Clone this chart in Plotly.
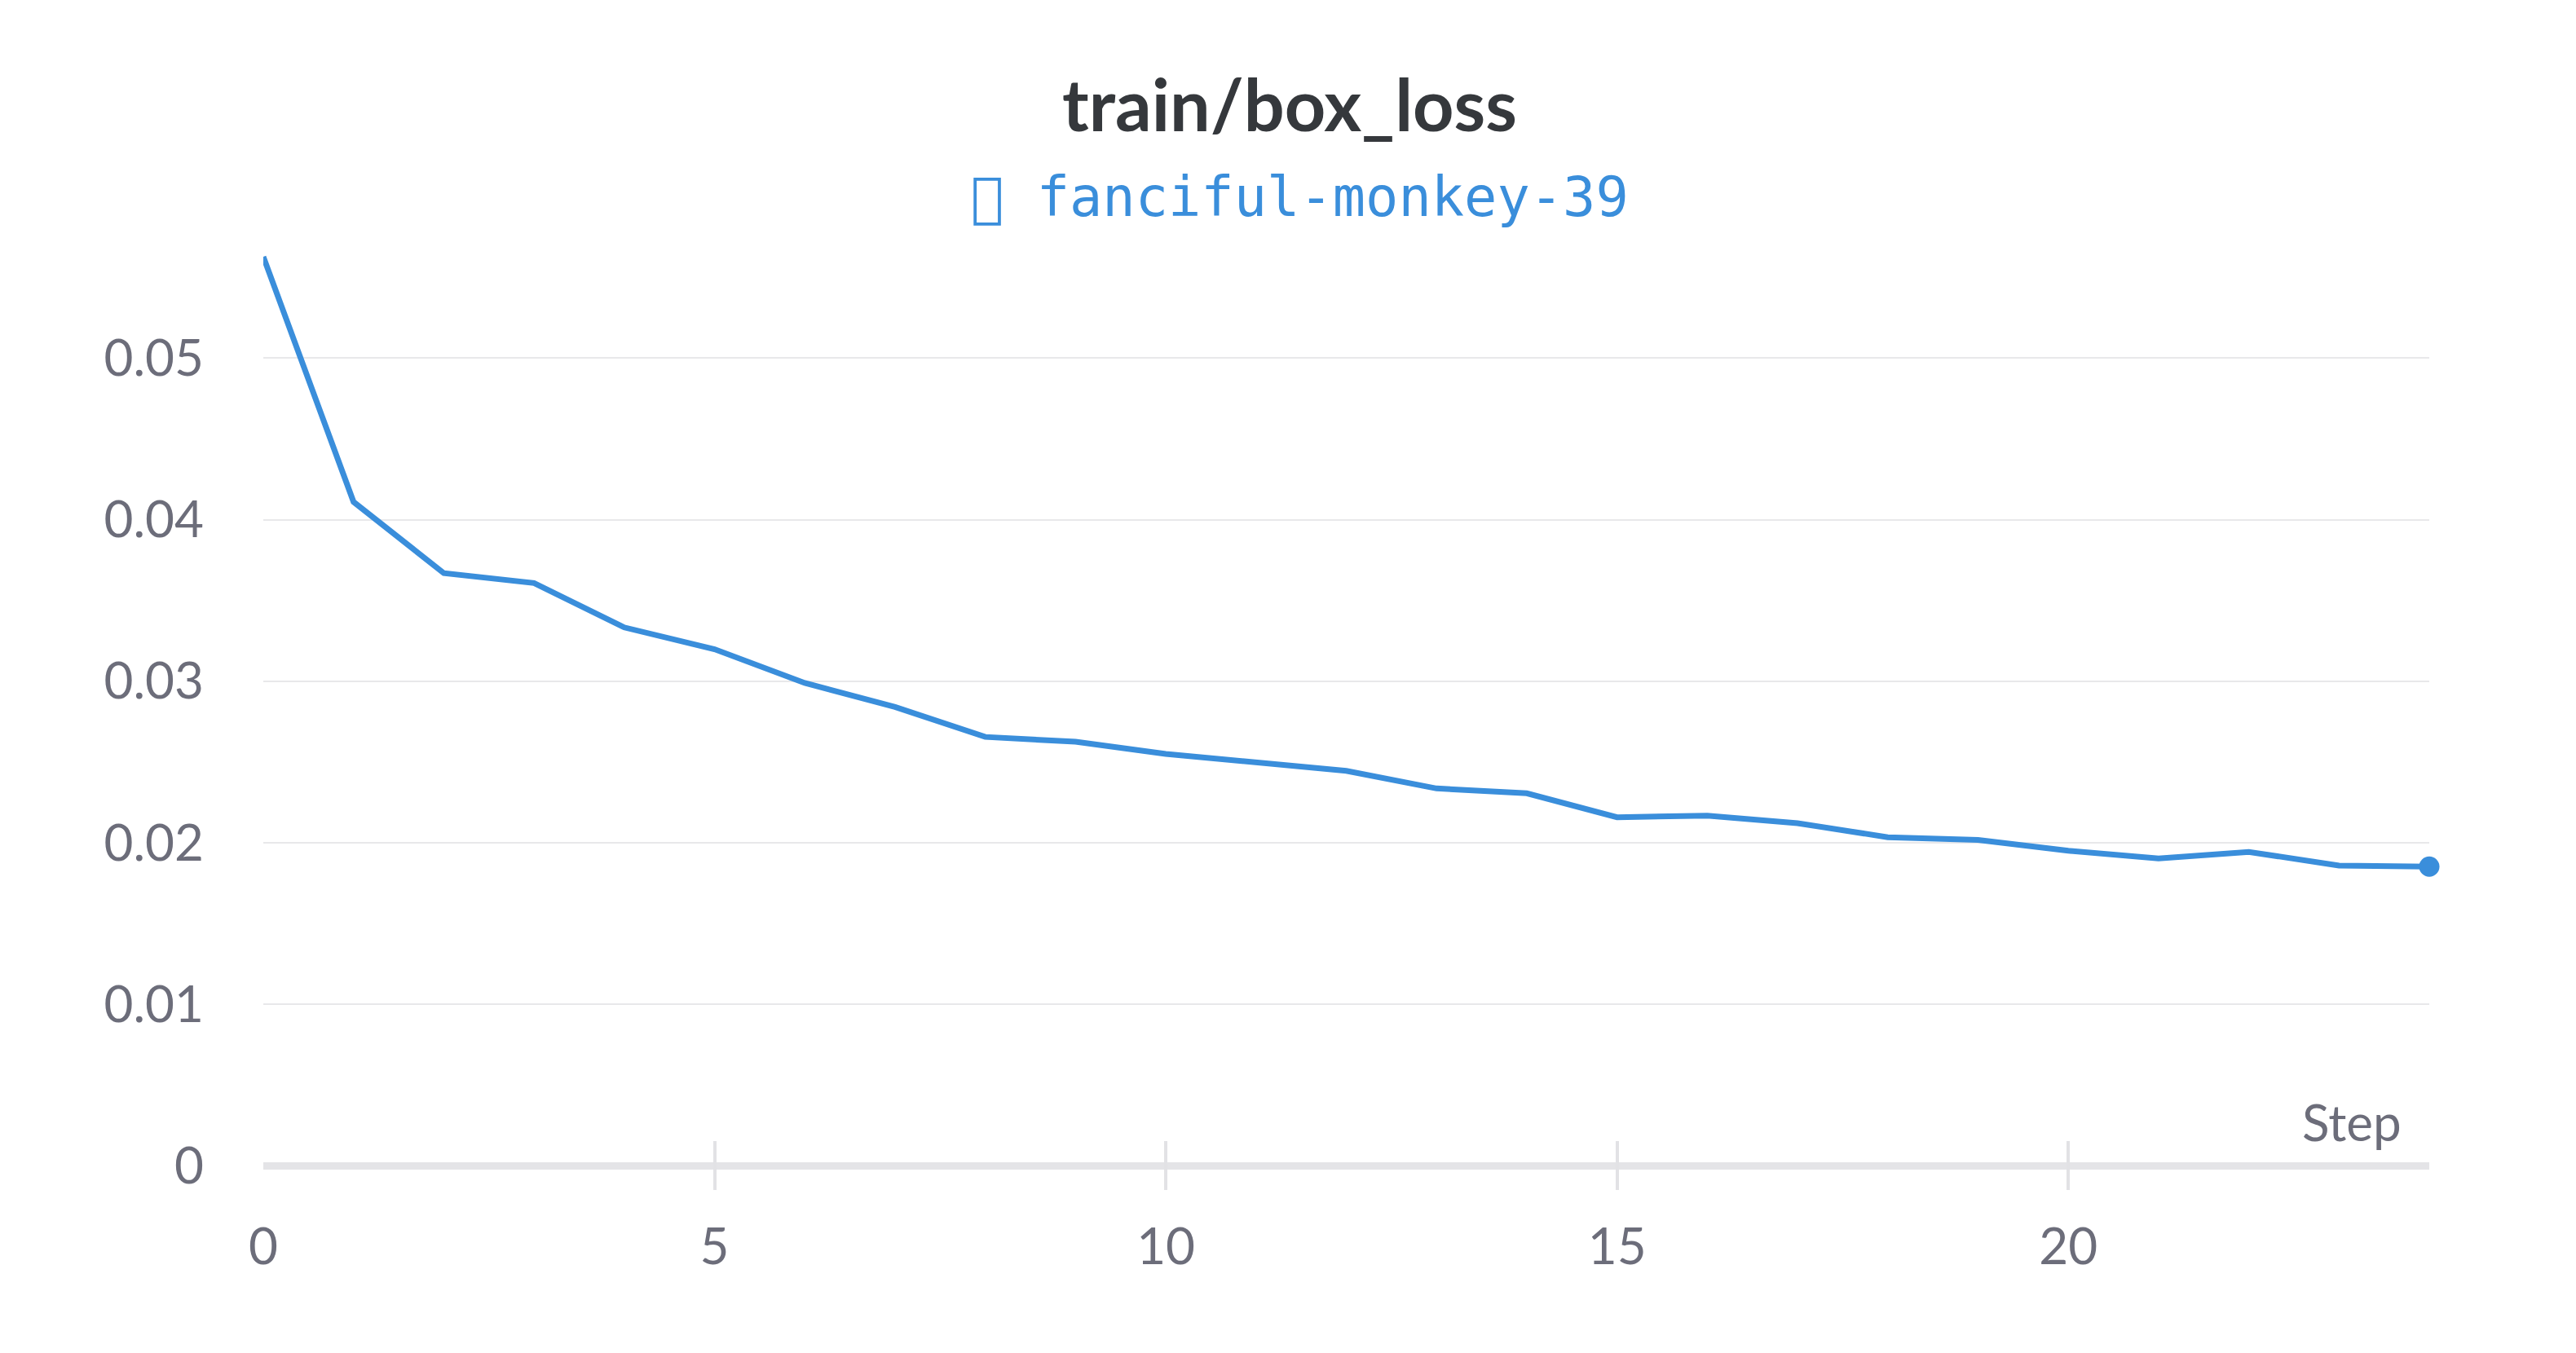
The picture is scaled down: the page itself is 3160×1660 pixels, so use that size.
import plotly.graph_objects as go

steps = list(range(25))
box_loss = [0.05628, 0.04110, 0.03669, 0.03608, 0.03333, 0.03198, 0.02989, 0.02840,
            0.02655, 0.02625, 0.02550, 0.02499, 0.02445, 0.02336, 0.02306, 0.02158,
            0.02168, 0.02121, 0.02034, 0.02017, 0.01950, 0.01903, 0.01943, 0.01859,
            0.01852]
x_ticks = [0, 5, 10, 15, 20]
y_ticks = [0, 0.01, 0.02, 0.03, 0.04, 0.05]
y_tick_text = ["0", "0.01", "0.02", "0.03", "0.04", "0.05"]

title_text = "train/box_loss"
run_name = "fanciful-monkey-39"
legend_icon = "\ue000"   # icon glyph with no font coverage (renders as a hollow box)
x_label = "Step"

BLUE = "#3a8edb"
GRAY_TXT = "#6c6d7a"
FONT = "Lato, 'Source Sans Pro', sans-serif"

# page body has an 8px default margin; layout compensates for it
OFF = 8
PLOT_L, PLOT_R, PLOT_T, PLOT_B = 323, 2980, 271, 1460
W, H = 3160, 1660

fig = go.Figure()
fig.add_trace(go.Scatter(
    x=steps, y=box_loss, mode="lines",
    line=dict(color=BLUE, width=7),
    cliponaxis=False, showlegend=False, hoverinfo="skip",
))
fig.add_trace(go.Scatter(
    x=[steps[-1]], y=[box_loss[-1]], mode="markers",
    marker=dict(color=BLUE, size=25),
    cliponaxis=False, showlegend=False, hoverinfo="skip",
))

plot_w = PLOT_R - PLOT_L
plot_h = PLOT_B - PLOT_T

fig.update_layout(
    width=W, height=H,
    margin=dict(l=PLOT_L - OFF, r=W - PLOT_R + OFF, t=PLOT_T - OFF, b=H - PLOT_B + OFF),
    paper_bgcolor="white", plot_bgcolor="white",
    font=dict(family=FONT, color=GRAY_TXT, size=62),
    title=dict(
        text="<b>" + title_text + "</b>",
        x=(1582 - OFF) / W, xref="container", xanchor="center",
        y=1 - (130 - OFF) / H, yref="container", yanchor="middle",
        font=dict(family=FONT, size=88, color="#35383c"),
    ),
    xaxis=dict(
        range=[0, 24], tickvals=x_ticks, ticktext=[str(v) for v in x_ticks],
        showgrid=False, zeroline=False, showline=False,
        ticks="inside", ticklen=60, tickwidth=4, tickcolor="#e2e2e5",
        tickfont=dict(family=FONT, size=62, color=GRAY_TXT),
        ticklabelstandoff=28,
    ),
    yaxis=dict(
        range=[-0.0015, 0.0585], tickvals=y_ticks, ticktext=y_tick_text,
        showgrid=True, gridcolor="#e8e8ea", gridwidth=2,
        zeroline=True, zerolinecolor="#e4e4e7", zerolinewidth=9,
        showline=False, ticks="",
        tickfont=dict(family=FONT, size=62, color=GRAY_TXT),
        ticklabelstandoff=72,
    ),
    annotations=[
        dict(
            text=legend_icon + " " + run_name,
            xref="paper", yref="paper",
            x=(1594 - PLOT_L) / plot_w, y=(PLOT_B - 242) / plot_h,
            xanchor="center", yanchor="middle", showarrow=False,
            font=dict(family="DejaVu Sans Mono, monospace", size=67, color=BLUE),
        ),
        dict(
            text=x_label,
            xref="paper", yref="paper",
            x=(2948 - PLOT_L) / plot_w, y=(PLOT_B - 1376) / plot_h,
            xanchor="right", yanchor="middle", showarrow=False,
            font=dict(family=FONT, size=62, color=GRAY_TXT),
        ),
    ],
)

fig.write_html("out.html")
